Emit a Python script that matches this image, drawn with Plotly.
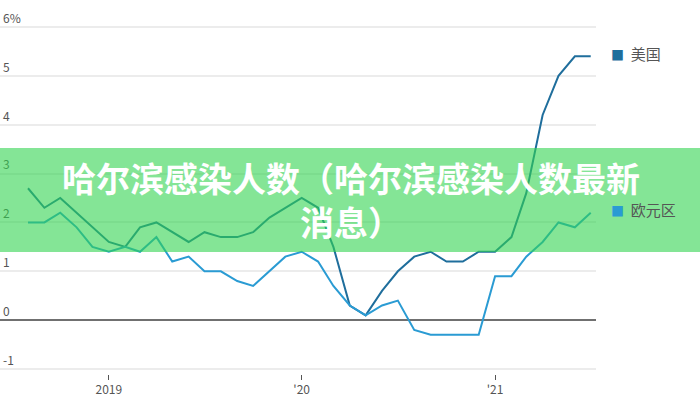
import plotly.graph_objects as go

months = [
    "2018-08-01", "2018-09-01", "2018-10-01", "2018-11-01", "2018-12-01",
    "2019-01-01", "2019-02-01", "2019-03-01", "2019-04-01", "2019-05-01", "2019-06-01",
    "2019-07-01", "2019-08-01", "2019-09-01", "2019-10-01", "2019-11-01", "2019-12-01",
    "2020-01-01", "2020-02-01", "2020-03-01", "2020-04-01", "2020-05-01", "2020-06-01",
    "2020-07-01", "2020-08-01", "2020-09-01", "2020-10-01", "2020-11-01", "2020-12-01",
    "2021-01-01", "2021-02-01", "2021-03-01", "2021-04-01", "2021-05-01", "2021-06-01",
    "2021-07-01",
]
us = [2.7, 2.3, 2.5, 2.2, 1.9, 1.6, 1.5, 1.9, 2.0, 1.8, 1.6, 1.8, 1.7, 1.7, 1.8, 2.1,
      2.3, 2.5, 2.3, 1.5, 0.3, 0.1, 0.6, 1.0, 1.3, 1.4, 1.2, 1.2, 1.4, 1.4, 1.7, 2.6,
      4.2, 5.0, 5.4, 5.4]
euro = [2.0, 2.0, 2.2, 1.9, 1.5, 1.4, 1.5, 1.4, 1.7, 1.2, 1.3, 1.0, 1.0, 0.8, 0.7, 1.0,
        1.3, 1.4, 1.2, 0.7, 0.3, 0.1, 0.3, 0.4, -0.2, -0.3, -0.3, -0.3, -0.3, 0.9, 0.9,
        1.3, 1.6, 2.0, 1.9, 2.2]

series_names = ["美国", "欧元区"]
colors = ["#1f6e9c", "#2a9bd3"]

y_ticks = [-1, 0, 1, 2, 3, 4, 5, 6]
y_ticktext = ["-1", "0", "1", "2", "3", "4", "5", "6%"]
x_ticks = ["2019-01-01", "2020-01-01", "2021-01-01"]
x_ticktext = ["2019", "'20", "'21"]

banner_text = "<b>哈尔滨感染人数（哈尔滨感染人数最新<br>消息）</b>"

# tamaño del área de trazado en píxeles
T, B, L, R = 8, 26, 0, 104
H = 400 - T - B
W = 700 - L - R

fig = go.Figure()
for name, vals, col in zip(series_names, [us, euro], colors):
    fig.add_trace(go.Scatter(x=months, y=vals, mode="lines", name=name,
                             line=dict(color=col, width=2), showlegend=False))

# etiquetas de leyenda al final de cada línea
for name, vals, col in zip(series_names, [us, euro], colors):
    fig.add_annotation(
        xref="paper", x=(609 - L) / W, y=vals[-1], yref="y", yshift=3,
        xanchor="left", showarrow=False,
        text=f'<span style="color:{col};font-size:13px">■</span>  {name}',
        font=dict(size=15, color="#555555", family="Noto Sans CJK SC"),
    )

# franja verde semitransparente con el título
fig.add_shape(type="rect", xref="paper", yref="paper", x0=-0.05, x1=1.25,
              y0=(400 - B - 252) / H, y1=(400 - B - 148) / H,
              fillcolor="rgba(50,212,80,0.6)", line=dict(width=0), layer="above")
fig.add_annotation(
    xref="paper", yref="paper", x=(351 - L) / W, y=(400 - B - 199) / H,
    text=banner_text, showarrow=False, align="center",
    font=dict(size=34, color="white", family="Noto Sans CJK SC"),
)

fig.update_layout(
    width=700, height=400,
    margin=dict(l=L, r=R, t=T, b=B, autoexpand=False),
    plot_bgcolor="white", paper_bgcolor="white",
    font=dict(family="Noto Sans CJK SC", color="#555555"),
    xaxis=dict(
        range=["2018-06-09", "2021-07-11"], type="date",
        tickvals=x_ticks, ticktext=x_ticktext, ticks="outside", ticklen=5,
        tickcolor="#555555", tickfont=dict(size=12, color="#555555"),
        showgrid=False, showline=False, zeroline=False, automargin=False,
    ),
    yaxis=dict(
        range=[-1.102, 6.389], tickvals=y_ticks, ticktext=y_ticktext,
        ticklabelposition="inside top", tickfont=dict(size=12, color="#555555"),
        showgrid=True, gridcolor="#ececec", gridwidth=1.5, automargin=False,
        zeroline=True, zerolinecolor="#707070", zerolinewidth=2,
    ),
)

# sin margen del body para que la figura empiece en la esquina
fig.write_html("out.html", config={"displayModeBar": False},
               post_script="document.body.style.margin='0';")
